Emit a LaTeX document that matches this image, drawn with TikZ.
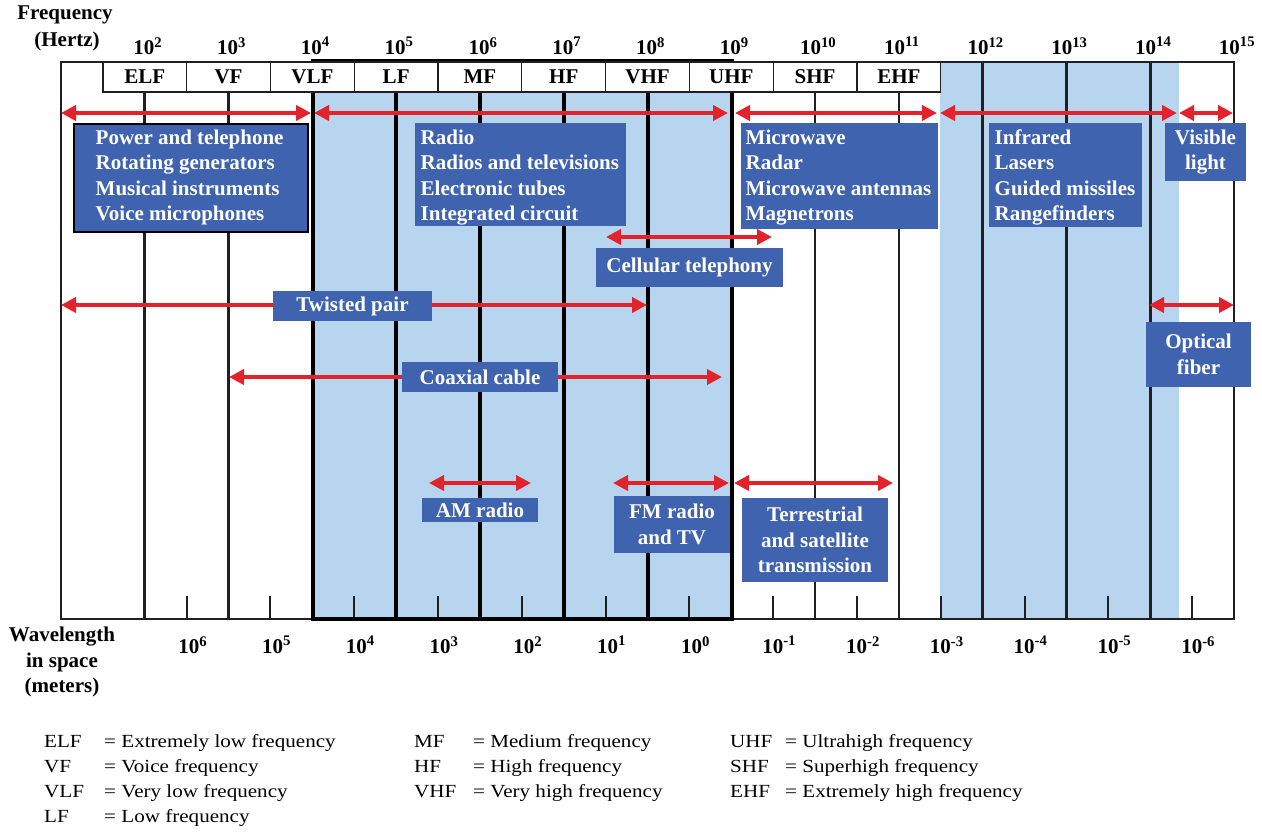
\documentclass[tikz,border=0pt]{standalone}
\usepackage{fontspec}
\setmainfont{Liberation Serif}
\newfontfamily\legendfont[FakeStretch=1.14]{Liberation Serif}
\usetikzlibrary{arrows.meta}

\definecolor{skyfill}{HTML}{B8D5EF}
\definecolor{boxblue}{HTML}{3F63AE}
\definecolor{arrowred}{HTML}{E3232C}
\definecolor{ink}{HTML}{231F20}

\tikzset{
  boldtext/.style={font=\fontsize{21}{25.5}\selectfont\bfseries},
  bluebox/.style={fill=boxblue, draw=none, inner sep=0pt, anchor=north west},
  boxlabel/.style={boldtext, text=white, inner sep=0pt, align=left, anchor=north west},
  centerbox/.style={fill=boxblue, draw=none, inner sep=0pt, boldtext, text=white, align=center},
  span/.style={draw=arrowred, line width=4pt,
    {Triangle[length=15pt,width=15pt]}-{Triangle[length=15pt,width=15pt]}},
  bandbox/.style={draw=ink, line width=1.3pt, fill=white, minimum width=83.79pt,
    minimum height=30pt, inner sep=0pt, boldtext},
  freqlabel/.style={boldtext, inner sep=0pt},
  leg/.style={font=\legendfont\fontsize{18.5}{25}\selectfont, inner sep=0pt, anchor=base west},
}

\begin{document}
\begin{tikzpicture}[x=1pt,y=-1pt]
\useasboundingbox (0,0) rectangle (1262,833);

% shaded frequency ranges
\fill[skyfill] (313,62) rectangle (732,619);
\fill[skyfill] (940,62) rectangle (1179,619);

% decade lines
\foreach \k in {2,3}
  \draw[ink, line width=3pt] ({61+(\k-1)*83.79},92) -- ({61+(\k-1)*83.79},619);
\foreach \k in {5,...,8}
  \draw[black, line width=4pt] ({61+(\k-1)*83.79},92) -- ({61+(\k-1)*83.79},619);
\foreach \k in {10,11}
  \draw[ink, line width=2.5pt] ({61+(\k-1)*83.79},92) -- ({61+(\k-1)*83.79},619);
\foreach \k in {12,13,14}
  \draw[ink, line width=2.5pt] ({61+(\k-1)*83.79},62) -- ({61+(\k-1)*83.79},619);

% wavelength ticks and labels
\foreach \k in {2,...,14} {
  \draw[ink, line width=2pt] ({61+(\k-0.5)*83.79},596) -- ({61+(\k-0.5)*83.79},619);
  \pgfmathtruncatemacro\ex{8-\k}
  \node[freqlabel] (w\k) at ({61+(\k-0.5)*83.79+6},645) {10\textsuperscript{\ex}};
}

% outer frame and the heavy radio-range frame
\draw[ink, line width=2.2pt] (61,62) rectangle (1234,619);
\draw[black, line width=4.5pt] (313,61) rectangle (732,619);

% band name row
\foreach \k/\band in {2/ELF,3/VF,4/VLF,5/LF,6/MF,7/HF,8/VHF,9/UHF,10/SHF,11/EHF}
  \node[bandbox] (band\k) at ({61+(\k-1)*83.79},77) {\band};

% frequency labels
\foreach \k in {2,...,15}
  \node[freqlabel] (f\k) at ({61+(\k-1)*83.79+3},46) {10\textsuperscript{\k}};

% axis titles
\node[freqlabel] (ftitle) at (65,15) {Frequency};
\node[freqlabel] (funit) at (67,41) {(Hertz)};
\node[freqlabel, align=center] (wtitle) at (62,662) {Wavelength\\in space\\(meters)};

% application ranges
\draw[span] (61,113) -- (311,113);
\draw[span] (314,113) -- (728,113);
\draw[span] (735,113) -- (937,113);
\draw[span] (940,113) -- (1177,113);
\draw[span] (1179,113) -- (1233,113);

% transmission media ranges
\draw[span] (606,237) -- (772,237);
\draw[span] (61,305) -- (647,305);
\draw[span] (1149,305) -- (1234,305);
\draw[span] (229,377) -- (722,377);
\draw[span] (429,483) -- (531,483);
\draw[span] (613,483) -- (729,483);
\draw[span] (734,483) -- (893,483);

% application boxes
\node[bluebox, draw=black, line width=2pt, minimum width=234pt, minimum height=108pt] (b1) at (73,123) {};
\node[boxlabel] (t1) at ([xshift=22.5pt,yshift=-6.5pt]b1.north west)
  {Power and telephone\\Rotating generators\\Musical instruments\\Voice microphones};
\node[bluebox, minimum width=211pt, minimum height=103pt] (b2) at (415,123) {};
\node[boxlabel] (t2) at ([xshift=5.5pt,yshift=-6.5pt]b2.north west)
  {Radio\\Radios and televisions\\Electronic tubes\\Integrated circuit};
\node[bluebox, minimum width=197pt, minimum height=106pt] (b3) at (741,123) {};
\node[boxlabel] (t3) at ([xshift=4.5pt,yshift=-6.5pt]b3.north west)
  {Microwave\\Radar\\Microwave antennas\\Magnetrons};
\node[bluebox, minimum width=153pt, minimum height=104pt] (b4) at (989,123) {};
\node[boxlabel] (t4) at ([xshift=5.5pt,yshift=-6.5pt]b4.north west)
  {Infrared\\Lasers\\Guided missiles\\Rangefinders};
\node[centerbox, minimum width=81pt, minimum height=58pt] (b5) at (1205.5,152) {Visible\\light};

% transmission media boxes
\node[centerbox, minimum width=187pt, minimum height=39pt] (cell) at (689.5,267.5) {Cellular telephony};
\node[centerbox, minimum width=159pt, minimum height=30pt] (twist) at (352.5,306) {Twisted pair};
\node[centerbox, minimum width=105pt, minimum height=65pt] (fiber) at (1198.5,354.5) {Optical\\fiber};
\node[centerbox, minimum width=156pt, minimum height=30pt] (coax) at (480,377) {Coaxial cable};
\node[centerbox, minimum width=116pt, minimum height=24pt] (am) at (480,510) {AM radio};
\node[centerbox, minimum width=116pt, minimum height=57pt] (fm) at (672,524.5) {FM radio\\and TV};
\node[centerbox, minimum width=146pt, minimum height=84pt] (terr) at (815,540) {Terrestrial\\and satellite\\transmission};

% legend
\foreach \ab/\desc [count=\i] in {ELF/Extremely low frequency, VF/Voice frequency,
    VLF/Very low frequency, LF/Low frequency} {
  \node[leg] (la\i) at (44,{722+25*\i}) {\ab};
  \node[leg] (ld\i) at (104,{722+25*\i}) {= \desc};
}
\foreach \ab/\desc [count=\i] in {MF/Medium frequency, HF/High frequency, VHF/Very high frequency} {
  \node[leg] (ma\i) at (414,{722+25*\i}) {\ab};
  \node[leg] (md\i) at (473,{722+25*\i}) {= \desc};
}
\foreach \ab/\desc [count=\i] in {UHF/Ultrahigh frequency, SHF/Superhigh frequency, EHF/Extremely high frequency} {
  \node[leg] (ra\i) at (730,{722+25*\i}) {\ab};
  \node[leg] (rd\i) at (785,{722+25*\i}) {= \desc};
}
\end{tikzpicture}
\end{document}
